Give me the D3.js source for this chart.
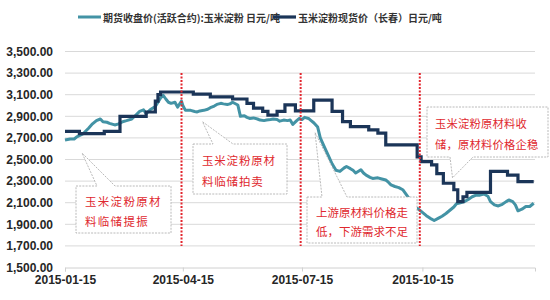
<!DOCTYPE html>
<html>
<head>
<meta charset="utf-8">
<script src="https://cdn.jsdelivr.net/npm/d3@7"></script>
<style>
  body { margin: 0; background: #fff; }
  svg { display: block; font-family: "Liberation Sans", Arial, sans-serif; }
</style>
</head>
<body>
<svg id="chart" width="550" height="300"></svg>
<script>
// series names (legend)
const seriesNames = ['期货收盘价(活跃合约):玉米淀粉 日元/吨', '玉米淀粉现货价（长春）日元/吨'];

// futures close price
const futuresDates = [
  '2015-01-15', '2015-01-19', '2015-01-22', '2015-01-24', '2015-01-29', '2015-02-02', '2015-02-05', '2015-02-08',
  '2015-02-11', '2015-02-13', '2015-02-16', '2015-02-18', '2015-02-22', '2015-02-25', '2015-02-28', '2015-03-03',
  '2015-03-07', '2015-03-10', '2015-03-13', '2015-03-16', '2015-03-18', '2015-03-21', '2015-03-25', '2015-03-27',
  '2015-03-29', '2015-03-31', '2015-04-02', '2015-04-04', '2015-04-06', '2015-04-09', '2015-04-11', '2015-04-14',
  '2015-04-15', '2015-04-17', '2015-04-21', '2015-04-24', '2015-04-26', '2015-04-28', '2015-05-01', '2015-05-04',
  '2015-05-06', '2015-05-09', '2015-05-11', '2015-05-14', '2015-05-16', '2015-05-19', '2015-05-21', '2015-05-23',
  '2015-05-27', '2015-05-29', '2015-06-01', '2015-06-03', '2015-06-05', '2015-06-08', '2015-06-11', '2015-06-13',
  '2015-06-16', '2015-06-18', '2015-06-21', '2015-06-23', '2015-06-26', '2015-06-28', '2015-07-01', '2015-07-04',
  '2015-07-06', '2015-07-08', '2015-07-11', '2015-07-13', '2015-07-15', '2015-07-17', '2015-07-20', '2015-07-22',
  '2015-07-24', '2015-07-27', '2015-07-29', '2015-08-01', '2015-08-04', '2015-08-07', '2015-08-10', '2015-08-13',
  '2015-08-16', '2015-08-18', '2015-08-21', '2015-08-23', '2015-08-25', '2015-08-29', '2015-08-31', '2015-09-02',
  '2015-09-05', '2015-09-07', '2015-09-11', '2015-09-14', '2015-09-17', '2015-09-19', '2015-09-21', '2015-09-24',
  '2015-09-27', '2015-09-30', '2015-10-03', '2015-10-06', '2015-10-09', '2015-10-12', '2015-10-15', '2015-10-18',
  '2015-10-21', '2015-10-24', '2015-10-27', '2015-10-30', '2015-11-02', '2015-11-05', '2015-11-08', '2015-11-10',
  '2015-11-13', '2015-11-16', '2015-11-19', '2015-11-22', '2015-11-25', '2015-11-28', '2015-12-01', '2015-12-04',
  '2015-12-06', '2015-12-09', '2015-12-12', '2015-12-15', '2015-12-18', '2015-12-20', '2015-12-23', '2015-12-25',
  '2015-12-27', '2015-12-30', '2016-01-02', '2016-01-05', '2016-01-08'
];
const futuresValues = [
  2680, 2690, 2690, 2710, 2740, 2790, 2830, 2860,
  2875, 2850, 2845, 2835, 2820, 2830, 2850, 2860,
  2875, 2910, 2945, 2960, 2925, 2960, 2990, 3030,
  3070, 3095, 3060, 3030, 3020, 3030, 2985, 3040,
  3000, 2955, 2955, 2945, 2940, 2950, 2955, 2965,
  2980, 2995, 3010, 3020, 3015, 3010, 3015, 3030,
  3005, 2900, 2905, 2890, 2880, 2885, 2875, 2865,
  2860, 2865, 2870, 2875, 2870, 2855, 2865, 2860,
  2865, 2825, 2860, 2880, 2870, 2890, 2880, 2860,
  2840, 2800, 2700, 2620, 2540, 2460, 2400, 2390,
  2420, 2435, 2415, 2400, 2375, 2405, 2375, 2355,
  2335, 2325, 2330, 2320, 2310, 2290, 2265, 2250,
  2240, 2220, 2170, 2120, 2060, 2040, 2010, 1980,
  1955, 1935, 1955, 1975, 2000, 2030, 2060, 2090,
  2100, 2110, 2130, 2155, 2170, 2170, 2180, 2160,
  2110, 2080, 2070, 2085, 2110, 2125, 2110, 2080,
  2025, 2040, 2065, 2065, 2095
];

// spot price (Changchun), value from each date on
const spotDates = [
  '2015-01-15', '2015-01-26', '2015-02-14', '2015-02-26', '2015-03-18', '2015-03-25', '2015-03-27', '2015-03-29',
  '2015-04-23', '2015-05-06', '2015-05-23', '2015-06-03', '2015-06-08', '2015-06-15', '2015-06-19', '2015-06-26',
  '2015-07-02', '2015-07-10', '2015-07-24', '2015-08-07', '2015-08-15', '2015-08-21', '2015-09-04', '2015-09-11',
  '2015-09-17', '2015-10-11', '2015-10-14', '2015-10-22', '2015-10-26', '2015-10-31', '2015-11-08', '2015-11-11',
  '2015-11-15', '2015-11-18', '2015-12-06', '2015-12-19', '2015-12-27', '2016-01-08'
];
const spotValues = [
  2760, 2740, 2760, 2900, 2940, 3040, 3100, 3125,
  3105, 3080, 3060, 3020, 2975, 2945, 2910, 2945,
  3005, 2950, 3050, 2945, 2850, 2805, 2775, 2745,
  2635, 2525, 2480, 2450, 2370, 2280, 2220, 2110,
  2155, 2195, 2390, 2355, 2295, 2295
];

const yTicks = [1500, 1700, 1900, 2100, 2300, 2500, 2700, 2900, 3100, 3300, 3500];
const xTicks = ['2015-01-15', '2015-04-15', '2015-07-15', '2015-10-15'];

// policy events (red dotted lines)
const eventDates = ['2015-04-14', '2015-07-14', '2015-10-13'];

// callout texts and the points they point at
const noteLines = [
  ['玉米淀粉原材', '料临储提振'],
  ['玉米淀粉原材', '料临储拍卖'],
  ['上游原材料价格走', '低，下游需求不足'],
  ['玉米淀粉原材料收', '储，原材料价格企稳']
];
const noteTipDates = ['2015-01-28', '2015-04-30', '2015-07-25', '2015-11-07'];
const noteTipValues = [2560, 2850, 2750, 2330];

const parse = d3.timeParse('%Y-%m-%d');

const width = 550;
const height = 300;
const margin = { top: 51.5, right: 15, bottom: 32.5, left: 65 };

const svg = d3.select('#chart');

const x = d3.scaleTime()
  .domain([parse('2015-01-15'), parse('2016-01-09')])
  .range([margin.left, width - margin.right]);

const y = d3.scaleLinear()
  .domain([1500, 3500])
  .range([height - margin.bottom, margin.top]);

// gridlines
svg.append('g')
  .selectAll('line')
  .data(yTicks.slice(1))
  .enter()
  .append('line')
  .attr('x1', margin.left)
  .attr('x2', width - margin.right)
  .attr('y1', (d) => y(d))
  .attr('y2', (d) => y(d))
  .attr('stroke', '#d9d9d9')
  .attr('stroke-width', 1);

// y axis labels only
const yAxis = svg.append('g')
  .attr('transform', `translate(${margin.left},0)`)
  .call(d3.axisLeft(y).tickValues(yTicks).tickSize(0).tickPadding(12).tickFormat(d3.format(',.2f')));
yAxis.select('.domain').remove();
yAxis.selectAll('text')
  .style('font-size', '12px')
  .style('font-weight', 'bold')
  .attr('fill', '#262626');

// x axis
const xAxis = svg.append('g')
  .attr('transform', `translate(0,${y(1500)})`)
  .call(d3.axisBottom(x).tickValues(xTicks.map(parse)).tickSize(4).tickPadding(4).tickFormat(d3.timeFormat('%Y-%m-%d')));
xAxis.select('.domain').attr('stroke', '#d0d0d0');
xAxis.selectAll('.tick line').attr('stroke', '#d0d0d0');
xAxis.selectAll('text')
  .style('font-size', '12px')
  .style('font-weight', 'bold')
  .attr('fill', '#262626');

// lines
const futures = futuresDates.map((d, i) => ({ date: parse(d), value: futuresValues[i] }));
const spot = spotDates.map((d, i) => ({ date: parse(d), value: spotValues[i] }));

svg.append('path')
  .datum(futures)
  .attr('fill', 'none')
  .attr('stroke', '#4393a5')
  .attr('stroke-width', 3)
  .attr('stroke-linejoin', 'round')
  .attr('d', d3.line().x((d) => x(d.date)).y((d) => y(d.value)));

svg.append('path')
  .datum(spot)
  .attr('fill', 'none')
  .attr('stroke', '#1b3558')
  .attr('stroke-width', 3.2)
  .attr('d', d3.line().curve(d3.curveStepAfter).x((d) => x(d.date)).y((d) => y(d.value)));

// red dotted event lines
svg.append('g')
  .selectAll('line')
  .data(eventDates)
  .enter()
  .append('line')
  .attr('x1', (d) => x(parse(d)))
  .attr('x2', (d) => x(parse(d)))
  .attr('y1', y(3300))
  .attr('y2', y(1700))
  .attr('stroke', '#e3262e')
  .attr('stroke-width', 2)
  .attr('stroke-dasharray', '2,1.5');

// callout boxes (pixel layout)
const noteBoxes = [
  { x: 76, y: 186, w: 95, h: 47, base: [97, 115], ls: 1.3 },
  { x: 193, y: 144, w: 94, h: 50, base: [213, 233], ls: 0.8 },
  { x: 307, y: 197, w: 110, h: 46, base: [322, 347], ls: 0 },
  { x: 427, y: 107, w: 121, h: 50, base: [450, 473], ls: 0.2, below: true }
];

noteBoxes.forEach((b, i) => {
  const tx = x(parse(noteTipDates[i]));
  const ty = y(noteTipValues[i]);
  let p;
  if (b.below) {
    p = `M${b.x},${b.y}H${b.x + b.w}V${b.y + b.h}H${b.base[1]}L${tx},${ty}L${b.base[0]},${b.y + b.h}H${b.x}Z`;
  } else {
    p = `M${b.x},${b.y}H${b.base[0]}L${tx},${ty}L${b.base[1]},${b.y}H${b.x + b.w}V${b.y + b.h}H${b.x}Z`;
  }
  const g = svg.append('g');
  g.append('path')
    .attr('d', p)
    .attr('fill', '#fff')
    .attr('stroke', '#a8a8a8')
    .attr('stroke-width', 0.8)
    .attr('stroke-dasharray', '2,1.2');

  noteLines[i].forEach((line, j) => {
    g.append('text')
      .attr('x', b.x + (b.below ? 8 : 9))
      .attr('y', b.y + b.h * (j === 0 ? 0.32 : 0.74))
      .attr('dominant-baseline', 'central')
      .style('font-family', '"Noto Sans CJK SC", sans-serif')
      .style('font-size', b.below ? '11.3px' : '11.5px')
      .style('letter-spacing', `${b.ls}px`)
      .attr('fill', '#e0282e')
      .text(line);
  });
});

// legend
const legend = svg.append('g').attr('transform', 'translate(0,17)');
const legendItems = [
  { x: 78, color: '#4393a5', w: 3 },
  { x: 273, color: '#1b3558', w: 3.2 }
];
legendItems.forEach((item, i) => {
  legend.append('line')
    .attr('x1', item.x)
    .attr('x2', item.x + 23)
    .attr('stroke', item.color)
    .attr('stroke-width', item.w);
  legend.append('text')
    .attr('x', item.x + 25)
    .attr('dominant-baseline', 'central')
    .style('font-family', '"Noto Sans CJK SC", sans-serif')
    .style('font-size', '10px')
    .style('font-weight', 'bold')
    .attr('fill', '#333')
    .text(seriesNames[i]);
});
</script>
</body>
</html>
